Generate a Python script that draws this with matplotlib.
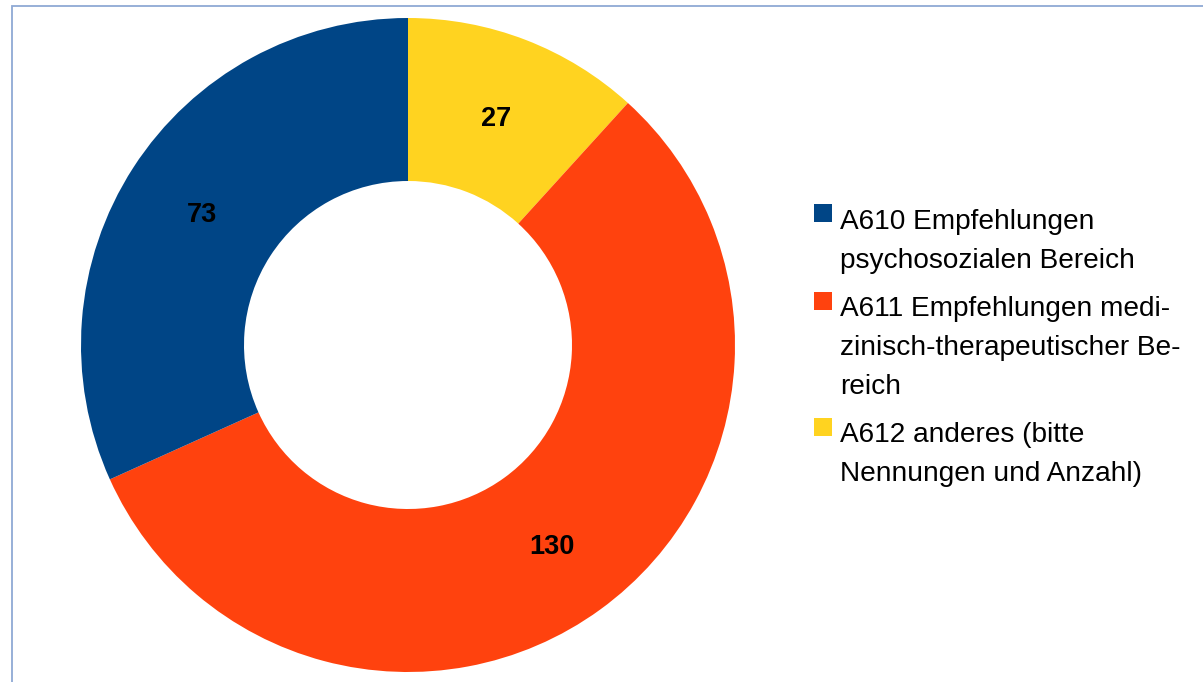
import matplotlib.pyplot as plt
from matplotlib.patches import Rectangle

# wedges run clockwise from 12 o'clock
values = [27, 130, 73]
colors = ['#ffd320', '#ff420e', '#004586']

legend_lines = [
    ['A610 Empfehlungen', 'psychosozialen Bereich'],
    ['A611 Empfehlungen medi-', 'zinisch-therapeutischer Be-', 'reich'],
    ['A612 anderes (bitte', 'Nennungen und Anzahl)'],
]
legend_colors = ['#004586', '#ff420e', '#ffd320']

W, H = 1203, 682
plt.rcParams['font.family'] = ['Liberation Sans', 'DejaVu Sans']

fig = plt.figure(figsize=(W / 100, H / 100), dpi=100)
ax = fig.add_axes([0, 0, 1, 1])

total = sum(values)
cx, cy, r_out, r_in = 408, H - 345, 327, 164
wedges, texts, autotexts = ax.pie(
    values, colors=colors, startangle=90, counterclock=False,
    center=(cx, cy), radius=r_out,
    wedgeprops=dict(width=r_out - r_in, linewidth=0),
    autopct=lambda p: '%d' % round(p * total / 100),
    pctdistance=(r_out + r_in) / 2 / r_out,
    textprops=dict(fontsize=19.5, fontweight='bold', color='black'),
)
for t in autotexts:
    t.set_verticalalignment('center_baseline')

ax.set_xlim(0, W)
ax.set_ylim(0, H)
ax.set_aspect('equal')
ax.axis('off')

# frame lines along the top and left edge
ax.plot([12, 12, W], [0, H - 5.5, H - 5.5], color='#8fa9d4', lw=1.3,
        solid_joinstyle='miter')

# legend, one baseline per line
baseline = 229
for lines, col in zip(legend_lines, legend_colors):
    ax.add_patch(Rectangle((814, H - baseline + 7), 18, 18, color=col, lw=0))
    for i, line in enumerate(lines):
        ax.text(840, H - baseline, line, fontsize=20.2, va='baseline', ha='left',
                color='black')
        if i < len(lines) - 1:
            baseline += 38.5
    baseline += 49

fig.savefig('out.png', dpi=100)
